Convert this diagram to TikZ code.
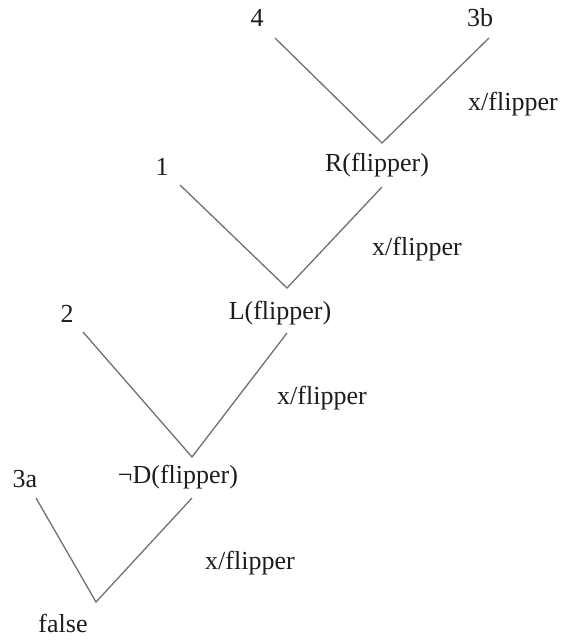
\documentclass[tikz,border=0pt]{standalone}
\usepackage{fontspec}
\setmainfont{Liberation Serif}
\definecolor{edgegray}{RGB}{112,112,112}
\definecolor{labelink}{RGB}{28,28,28}
\begin{document}
\begin{tikzpicture}[x=1pt,y=-1pt,
  lbl/.style={inner sep=0pt,text=labelink,font=\fontsize{26}{30}\selectfont},
  branch/.style={draw=edgegray,line width=1.3pt}]
\useasboundingbox (0,0) rectangle (564,640);

% branch points of the tree
\coordinate (a1) at (275,38);  \coordinate (v1) at (382,143); \coordinate (b1) at (489,38);
\coordinate (a2) at (180,185); \coordinate (v2) at (287,288); \coordinate (b2) at (382,187);
\coordinate (a3) at (83,332);  \coordinate (v3) at (192,457); \coordinate (b3) at (287,333);
\coordinate (a4) at (36,498);  \coordinate (v4) at (96,602);  \coordinate (b4) at (192,498);

% labels
\node[lbl] (n4)     at (257,18)  {4};
\node[lbl] (n3b)    at (480,18)  {3b};
\node[lbl] (xf1)    at (513,104) {x/flipper};
\node[lbl] (rfl)    at (377,165) {R(flipper)};
\node[lbl] (n1)     at (162,167) {1};
\node[lbl] (xf2)    at (417,249) {x/flipper};
\node[lbl] (lfl)    at (280,313) {L(flipper)};
\node[lbl] (n2)     at (67,314)  {2};
\node[lbl] (xf3)    at (322,398) {x/flipper};
\node[lbl] (n3a)    at (25,479)  {3a};
\node[lbl] (dfl)    at (178,477) {¬D(flipper)};
\node[lbl] (xf4)    at (250,563) {x/flipper};
\node[lbl] (nfalse) at (63,623)  {false};

% branches
\draw[branch] (a1) -- (v1) -- (b1);
\draw[branch] (a2) -- (v2) -- (b2);
\draw[branch] (a3) -- (v3) -- (b3);
\draw[branch] (a4) -- (v4) -- (b4);
\end{tikzpicture}
\end{document}
